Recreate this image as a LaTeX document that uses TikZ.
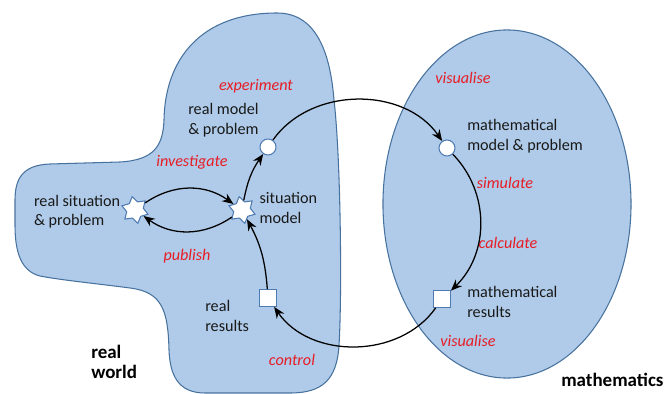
\documentclass[tikz,border=0pt]{standalone}
\usepackage{fontspec}
\setmainfont{Carlito}
\usetikzlibrary{positioning,arrows.meta,shapes.geometric}

\definecolor{zonefill}{RGB}{175,203,233}
\definecolor{zoneline}{RGB}{72,114,158}
\definecolor{markline}{RGB}{78,122,178}
\definecolor{labred}{RGB}{232,28,36}
\definecolor{textgray}{RGB}{25,25,25}

\begin{document}
\begin{tikzpicture}[x=0.025cm, y=-0.025cm,
  zone/.style={draw=zoneline, fill=zonefill, line width=0.75pt},
  sm/.style={star, star points=6, star point ratio=1.6, draw=markline,
             fill=white, line width=0.75pt, minimum size=0.68cm,
             inner sep=0pt, rotate=12},
  rm/.style={circle, draw=markline, fill=white, line width=0.75pt,
             minimum size=0.4cm, inner sep=0pt},
  rr/.style={rectangle, draw=markline, fill=white, line width=0.75pt,
             minimum size=0.42cm, inner sep=0pt},
  tx/.style={font=\fontsize{11.5}{13.9}\selectfont, text=textgray,
             align=left, inner sep=0pt},
  lb/.style={font=\fontsize{11.5}{13.9}\selectfont\itshape, text=labred,
             inner sep=0pt},
  hd/.style={font=\fontsize{13.5}{14.5}\selectfont\bfseries, align=left,
             inner sep=0pt},
  ar/.style={-{Stealth[length=8pt,width=6.5pt]}, line width=0.9pt}
]
\useasboundingbox (0,0) rectangle (667,394);

% real world region
\draw[zone] (277,13) .. controls (315,13) and (330,50) .. (334,100)
  .. controls (341,160) and (342,300) .. (339,345)
  .. controls (337,380) and (322,393) .. (290,393)
  -- (205,393)
  .. controls (178,393) and (170,375) .. (169,350)
  .. controls (168,310) and (162,292) .. (130,288)
  .. controls (100,284) and (60,280) .. (40,276)
  .. controls (20,271) and (15,250) .. (15,225)
  -- (15,200)
  .. controls (15,176) and (25,165) .. (50,164)
  -- (120,162)
  .. controls (155,160) and (163,145) .. (164,120)
  .. controls (165,60) and (200,13) .. (277,13) -- cycle;

% mathematics region
\draw[zone] (507,204) ellipse [x radius=3.1cm, y radius=4.35cm];

\node[sm] (RS) at (135,210) {};
\node[sm] (SM) at (242,210) {};
\node[rm] (RM) at (268,147) {};
\node[rm] (MM) at (447,148) {};
\node[rr] (RR) at (268,298) {};
\node[rr] (MR) at (442,299) {};

\node[tx, left=4pt of RS] (RSt) {real situation\\\& problem};
\node[tx, right=6pt of SM] (SMt) {situation\\model};
\node[tx, anchor=west] (RMt) at (188,120) {real model\\\& problem};
\node[tx, anchor=west] (RRt) at (205,316) {real\\results};
\node[tx, anchor=west] (MMt) at (467,136) {mathematical\\model \& problem};
\node[tx, anchor=west] (MRt) at (467,302) {mathematical\\results};
\node[hd, anchor=west] (RW) at (91,362) {real\\world};
\node[hd, anchor=west] (MA) at (561,380) {mathematics};

% red labels
\node[lb] (ex) at (256,86) {experiment};
\node[lb] (iv) at (192,162) {investigate};
\node[lb] (pu) at (187,256) {publish};
\node[lb] (co) at (292,360) {control};
\node[lb] (vt) at (463,78) {visualise};
\node[lb] (si) at (505,183) {simulate};
\node[lb] (ca) at (508,243) {calculate};
\node[lb] (vb) at (468,341) {visualise};

\draw[ar] (RS) to[bend left=35] (SM);
\draw[ar] (SM) to[bend left=35] (RS);
\draw[ar] (SM) to[bend left=12] (RM);
\draw[ar] (RM) to[bend left=55] (MM);
\draw[ar] (MM) to[bend left=45] (MR);
\draw[ar] (MR) to[bend left=55] (RR);
\draw[ar] (RR) to[bend right=12] (SM);
\end{tikzpicture}
\end{document}
